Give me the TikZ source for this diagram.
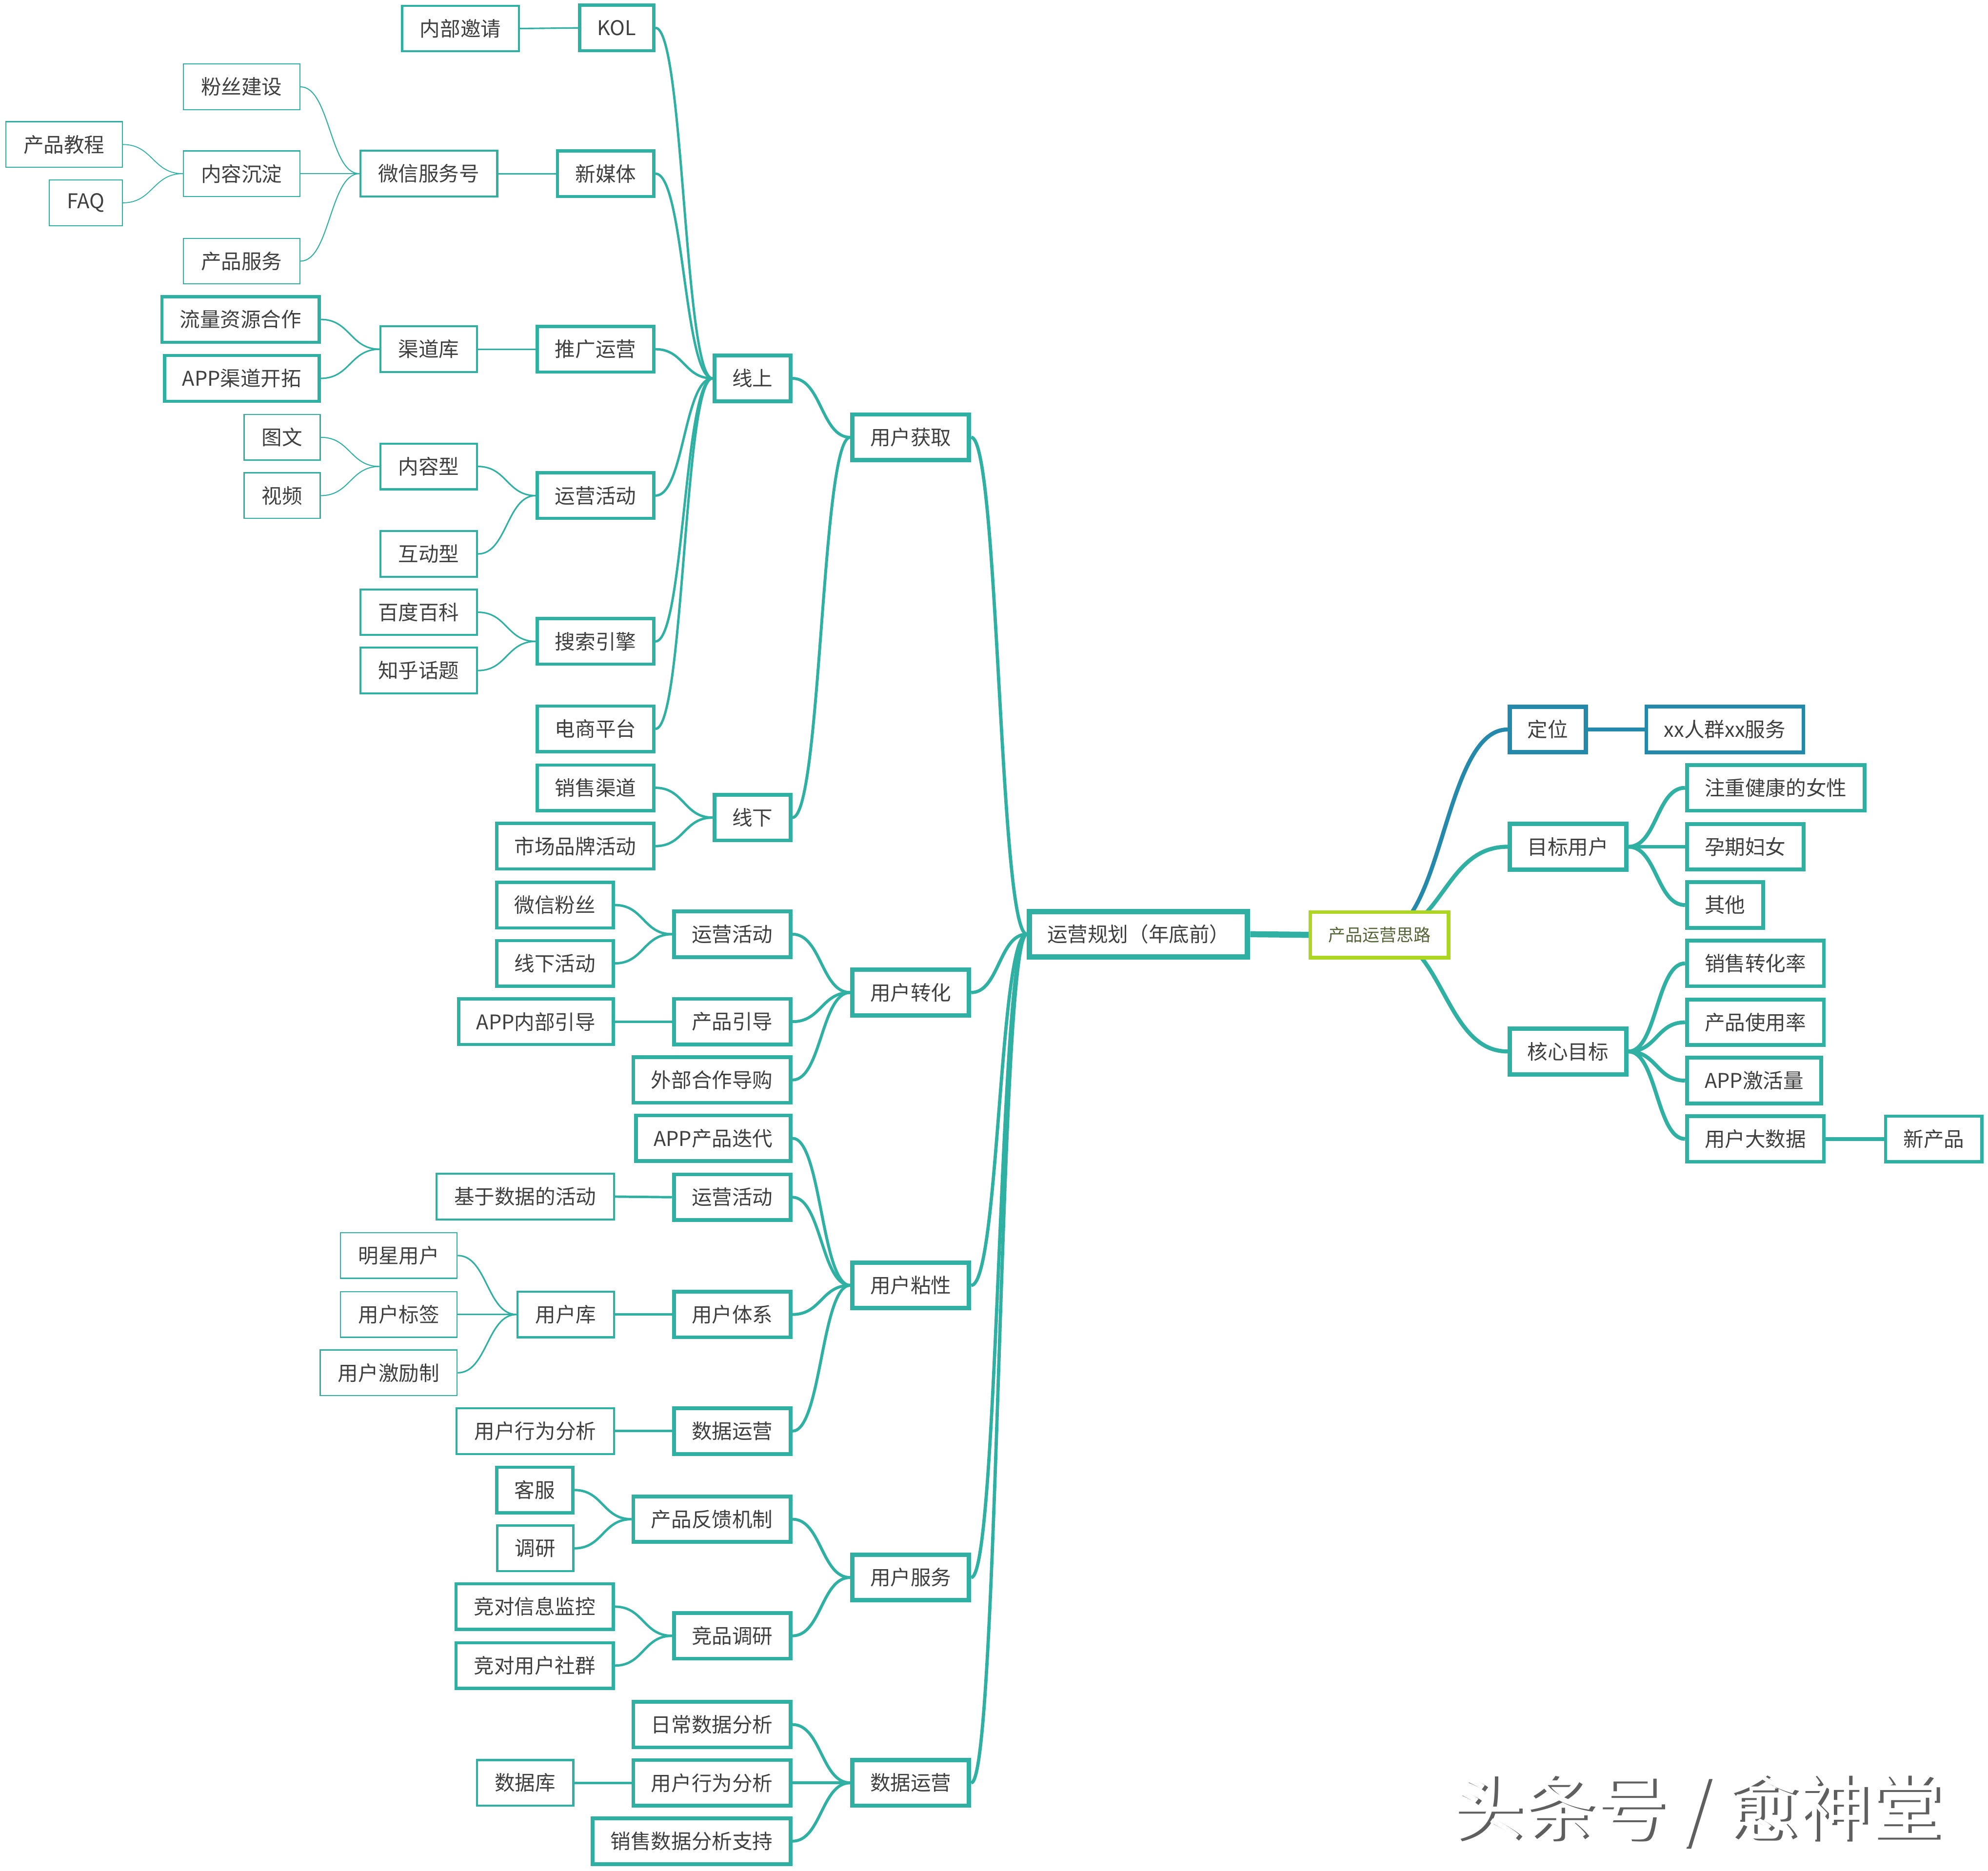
\documentclass[tikz,border=0pt]{standalone}
\usepackage{fontspec}
\setmainfont{Noto Sans CJK SC}
\usepackage{tikz}
\usetikzlibrary{calc, backgrounds}
\definecolor{mmteal}{RGB}{48,176,162}
\definecolor{mmblue}{RGB}{37,137,172}
\definecolor{mmlime}{RGB}{172,214,34}
\definecolor{mmtext}{RGB}{64,64,64}
\definecolor{mmolive}{RGB}{85,100,55}
\definecolor{wmgray}{RGB}{95,95,95}
\tikzset{
  topic/.style={rectangle, draw=mmteal, fill=white, text=mmtext,
    font=\fontsize{16}{18}\selectfont, inner xsep=14pt, inner ysep=0pt,
    minimum height=36pt},
  rootbox/.style={topic, line width=4.2pt},
  centerbox/.style={topic, draw=mmlime, text=mmolive, line width=2.8pt,
    font=\fontsize{13.5}{15}\selectfont},
  lone/.style={topic, line width=3.4pt},
  ltwo/.style={topic, line width=3pt},
  thickbox/.style={topic, line width=2.5pt},
  midbox/.style={topic, line width=1.6pt},
  thinbox/.style={topic, line width=0.9pt},
  wmark/.style={font=\fontsize{56.5}{60}\selectfont, inner sep=0pt},
  branch/.style={to path={let \p1=(\tikztostart), \p2=(\tikztotarget) in
    .. controls ({(\x1+\x2)/2},\y1) and ({(\x1+\x2)/2},\y2) .. (\p2)}},
  c0/.style={draw=mmteal, line width=4.8pt},
  cr1/.style={draw=mmteal, line width=3.2pt},
  cr2/.style={draw=mmteal, line width=3pt},
  c1/.style={draw=mmteal, line width=2.6pt},
  c2/.style={draw=mmteal, line width=2.3pt},
  c3/.style={draw=mmteal, line width=1.9pt},
  c4/.style={draw=mmteal, line width=1.2pt},
  c5/.style={draw=mmteal, line width=0.8pt},
  c6/.style={draw=mmteal, line width=0.7pt}
}

\begin{document}
\begin{tikzpicture}[x=1pt, y=-1pt]
  \useasboundingbox (0,0) rectangle (1568,1476);

  % Central topics
  \node[rootbox] (yygh) at (898,737) {运营规划（年底前）};
  \node[centerbox] (cpyysl) at (1088,737.5) {产品运营思路};

  % User acquisition
  \node[lone, anchor=east] (yhhq) at (766,345) {用户获取};
  \node[ltwo, anchor=east] (xs) at (625,298.5) {线上};
  \node[ltwo, anchor=east] (xx) at (625,645) {线下};
  \node[thickbox, anchor=east] (kol) at (517,22) {KOL};
  \node[midbox, anchor=east] (nbyq) at (410,22.5) {内部邀请};
  \node[thickbox, anchor=east] (xmt) at (517,137) {新媒体};
  \node[midbox, anchor=east] (wxfwh) at (393,137) {微信服务号};
  \node[thinbox, anchor=east] (fsjs) at (237,68.5) {粉丝建设};
  \node[thinbox, anchor=east] (nrcd) at (237,137) {内容沉淀};
  \node[thinbox, anchor=east] (cpfw) at (237,206) {产品服务};
  \node[thinbox, anchor=east] (cpjc) at (97,114) {产品教程};
  \node[thinbox, anchor=east] (faq) at (97,160) {FAQ};
  \node[thickbox, anchor=east] (tgyy) at (517,275.5) {推广运营};
  \node[midbox, anchor=east] (qdk) at (377,275.5) {渠道库};
  \node[thickbox, anchor=east] (llzy) at (253,252) {流量资源合作};
  \node[thickbox, anchor=east] (appqd) at (253,298.5) {APP渠道开拓};
  \node[thickbox, anchor=east] (yyhda) at (517,391) {运营活动};
  \node[midbox, anchor=east] (nrx) at (377,368) {内容型};
  \node[thinbox, anchor=east] (tw) at (253,345) {图文};
  \node[thinbox, anchor=east] (sp) at (253,391) {视频};
  \node[midbox, anchor=east] (hdx) at (377,437) {互动型};
  \node[thickbox, anchor=east] (ssyq) at (517,506) {搜索引擎};
  \node[midbox, anchor=east] (bdbk) at (377,483) {百度百科};
  \node[midbox, anchor=east] (zhht) at (377,529) {知乎话题};
  \node[thickbox, anchor=east] (dspt) at (517,575) {电商平台};
  \node[thickbox, anchor=east] (xsqd) at (517,621.5) {销售渠道};
  \node[thickbox, anchor=east] (scpp) at (517,667.5) {市场品牌活动};

  % User conversion
  \node[lone, anchor=east] (yhzh) at (766,783) {用户转化};
  \node[ltwo, anchor=east] (yyhdb) at (625,737) {运营活动};
  \node[thickbox, anchor=east] (wxfs) at (485,714) {微信粉丝};
  \node[thickbox, anchor=east] (xxhd) at (485,760) {线下活动};
  \node[ltwo, anchor=east] (cpyd) at (625,806) {产品引导};
  \node[thickbox, anchor=east] (appnb) at (485,806) {APP内部引导};
  \node[ltwo, anchor=east] (wbhz) at (625,852) {外部合作导购};

  % User stickiness
  \node[lone, anchor=east] (yhnx) at (766,1014) {用户粘性};
  \node[ltwo, anchor=east] (appdd) at (625,898) {APP产品迭代};
  \node[ltwo, anchor=east] (yyhdc) at (625,944.5) {运营活动};
  \node[midbox, anchor=east] (jysj) at (485,944) {基于数据的活动};
  \node[ltwo, anchor=east] (yhtx) at (625,1037) {用户体系};
  \node[midbox, anchor=east] (yhk) at (485,1037) {用户库};
  \node[thinbox, anchor=east] (mxyh) at (361,990.5) {明星用户};
  \node[thinbox, anchor=east] (yhbq) at (361,1037) {用户标签};
  \node[thinbox, anchor=east] (yhjl) at (361,1083) {用户激励制};
  \node[ltwo, anchor=east] (sjyyb) at (625,1129) {数据运营};
  \node[midbox, anchor=east] (xwfxa) at (485,1129) {用户行为分析};

  % User service
  \node[lone, anchor=east] (yhfw) at (766,1244.5) {用户服务};
  \node[ltwo, anchor=east] (fkjz) at (625,1198.5) {产品反馈机制};
  \node[thickbox, anchor=east] (kf) at (453,1175.5) {客服};
  \node[midbox, anchor=east] (dy) at (453,1221.5) {调研};
  \node[ltwo, anchor=east] (jpdy) at (625,1290.5) {竞品调研};
  \node[thickbox, anchor=east] (xxjk) at (485,1267.5) {竞对信息监控};
  \node[thickbox, anchor=east] (yhsq) at (485,1314) {竞对用户社群};

  % Data operation
  \node[lone, anchor=east] (sjyy) at (766,1406.5) {数据运营};
  \node[ltwo, anchor=east] (rcfx) at (625,1360.5) {日常数据分析};
  \node[ltwo, anchor=east] (xwfxb) at (625,1406.5) {用户行为分析};
  \node[midbox, anchor=east] (sjk) at (453,1406.5) {数据库};
  \node[ltwo, anchor=east] (xsfx) at (625,1452.5) {销售数据分析支持};

  % Right side
  \node[lone, draw=mmblue, anchor=west] (dw) at (1189,575.5) {定位};
  \node[ltwo, draw=mmblue, anchor=west] (xxrq) at (1297,575.5) {xx人群xx服务};
  \node[lone, anchor=west] (mbyh) at (1189,668) {目标用户};
  \node[ltwo, anchor=west] (zzjk) at (1329,621.5) {注重健康的女性};
  \node[ltwo, anchor=west] (yqfn) at (1329,668) {孕期妇女};
  \node[ltwo, anchor=west] (qt) at (1329,714) {其他};
  \node[lone, anchor=west] (hxmb) at (1189,829.5) {核心目标};
  \node[ltwo, anchor=west] (xszhl) at (1329,760) {销售转化率};
  \node[ltwo, anchor=west] (cpsyl) at (1329,806.5) {产品使用率};
  \node[ltwo, anchor=west] (apphyl) at (1329,852.5) {APP激活量};
  \node[ltwo, anchor=west] (yhdsj) at (1329,898.5) {用户大数据};
  \node[thickbox, anchor=west] (xcp) at (1486,898.5) {新产品};

  % Watermark
  \node[wmark, text=wmgray, anchor=west] (wmshade) at (1147.5,1429.5) {头条号 / 愈神堂};
  \node[wmark, text=white, anchor=west] (wmtext) at (1145,1428) {头条号 / 愈神堂};

  % Connectors
  \begin{scope}[on background layer]
    \fill[white] (0,0) rectangle (1568,1476);
    \draw[c0] (yygh.east) -- (cpyysl.west);
    \draw[cr1, draw=mmblue] (cpyysl.center) to[branch] (dw.west);
    \draw[cr1] (cpyysl.center) to[branch] (mbyh.west);
    \draw[cr1] (cpyysl.center) to[branch] (hxmb.west);
    \draw[cr2, draw=mmblue] (dw.east) to[branch] (xxrq.west);
    \foreach \kid in {zzjk,yqfn,qt}
      \draw[cr2] (mbyh.east) to[branch] (\kid.west);
    \foreach \kid in {xszhl,cpsyl,apphyl,yhdsj}
      \draw[cr2] (hxmb.east) to[branch] (\kid.west);
    \draw[cr2] (yhdsj.east) to[branch] (xcp.west);

    \foreach \kid in {yhhq,yhzh,yhnx,yhfw,sjyy}
      \draw[c1] (yygh.west) to[branch] (\kid.east);
    \foreach \kid in {xs,xx}
      \draw[c2] (yhhq.west) to[branch] (\kid.east);
    \foreach \kid in {yyhdb,cpyd,wbhz}
      \draw[c2] (yhzh.west) to[branch] (\kid.east);
    \foreach \kid in {appdd,yyhdc,yhtx,sjyyb}
      \draw[c2] (yhnx.west) to[branch] (\kid.east);
    \foreach \kid in {fkjz,jpdy}
      \draw[c2] (yhfw.west) to[branch] (\kid.east);
    \foreach \kid in {rcfx,xwfxb,xsfx}
      \draw[c2] (sjyy.west) to[branch] (\kid.east);

    \foreach \kid in {kol,xmt,tgyy,yyhda,ssyq,dspt}
      \draw[c3] (xs.west) to[branch] (\kid.east);
    \foreach \kid in {xsqd,scpp}
      \draw[c3] (xx.west) to[branch] (\kid.east);
    \foreach \kid in {wxfs,xxhd}
      \draw[c3] (yyhdb.west) to[branch] (\kid.east);
    \draw[c3] (cpyd.west) to[branch] (appnb.east);
    \draw[c3] (yyhdc.west) to[branch] (jysj.east);
    \draw[c3] (yhtx.west) to[branch] (yhk.east);
    \draw[c3] (sjyyb.west) to[branch] (xwfxa.east);
    \foreach \kid in {kf,dy}
      \draw[c3] (fkjz.west) to[branch] (\kid.east);
    \foreach \kid in {xxjk,yhsq}
      \draw[c3] (jpdy.west) to[branch] (\kid.east);
    \draw[c3] (xwfxb.west) to[branch] (sjk.east);

    \draw[c4] (kol.west) to[branch] (nbyq.east);
    \draw[c4] (xmt.west) to[branch] (wxfwh.east);
    \draw[c4] (tgyy.west) to[branch] (qdk.east);
    \foreach \kid in {nrx,hdx}
      \draw[c4] (yyhda.west) to[branch] (\kid.east);
    \foreach \kid in {bdbk,zhht}
      \draw[c4] (ssyq.west) to[branch] (\kid.east);
    \foreach \kid in {mxyh,yhbq,yhjl}
      \draw[c4] (yhk.west) to[branch] (\kid.east);

    \foreach \kid in {fsjs,nrcd,cpfw}
      \draw[c5] (wxfwh.west) to[branch] (\kid.east);
    \foreach \kid in {llzy,appqd}
      \draw[c4] (qdk.west) to[branch] (\kid.east);
    \foreach \kid in {tw,sp}
      \draw[c5] (nrx.west) to[branch] (\kid.east);
    \foreach \kid in {cpjc,faq}
      \draw[c6] (nrcd.west) to[branch] (\kid.east);
  \end{scope}
\end{tikzpicture}
\end{document}
